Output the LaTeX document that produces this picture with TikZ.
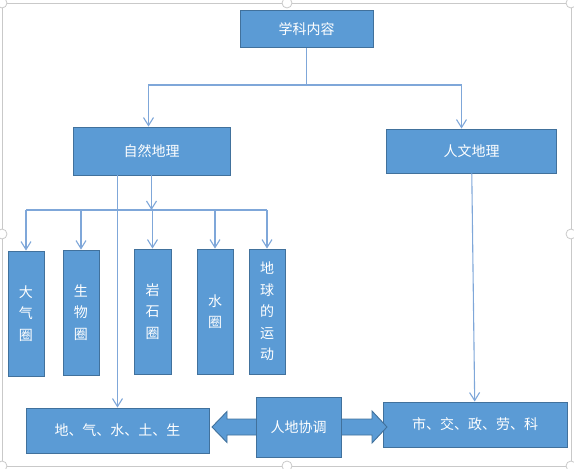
\documentclass[tikz,border=0pt]{standalone}
\usepackage{fontspec}
\newfontfamily\cjk{Noto Sans CJK SC}
\usepackage{xcolor}
\usepackage{tikz}
\usetikzlibrary{arrows.meta}
\usetikzlibrary{calc}

\definecolor{boxfill}{HTML}{5B9BD5}
\definecolor{boxline}{HTML}{41719C}
\definecolor{linkline}{HTML}{7FA7D9}
\definecolor{framegray}{HTML}{C9C9C9}

\tikzset{
  topic/.style={draw=boxline, fill=boxfill, line width=0.9pt, text=white, inner sep=0pt,
    font=\cjk\fontsize{14}{16}\selectfont},
  sphere/.style={topic, minimum width=36, minimum height=125, align=center,
    font=\cjk\fontsize{14}{21.5}\selectfont},
  arrowbody/.style={draw=boxline, fill=boxfill, line width=0.9pt},
  link/.style={draw=linkline, line width=1.1pt},
  linkarr/.style={link, -{Straight Barb[length=8pt,width=10pt]}},
}

\begin{document}
\begin{tikzpicture}[x=1pt,y=-1pt]
			\useasboundingbox (0,0) rectangle (574,469);
			\draw[framegray, line width=0.8pt] (2,3) rectangle (571,466);
			\foreach \p in {(2,3),(287,3),(571,3),(2,234),(571,234),(2,466),(287,466),(571,466)}
				\filldraw[draw=framegray, fill=white, line width=0.8pt] \p circle (5pt);

			\node[topic, minimum width=133, minimum height=37] (content) at (306.5,29) {学科内容};
			\node[topic, minimum width=157, minimum height=48] (physical) at (151.5,151) {自然地理};
			\node[topic, minimum width=170, minimum height=44] (human) at (471.5,151) {人文地理};

			\node[sphere] (atmo) at (26,313.5) {大\\气\\圈};
			\node[sphere] (bio) at (81,312.5) {生\\物\\圈};
			\node[sphere, minimum width=37] (litho) at (152.5,311.5) {岩\\石\\圈};
			\node[sphere] (hydro) at (215,311.5) {水\\圈};
			\node[sphere] (motion) at (267,311.5) {地\\球\\的\\运\\动};

			\node[topic, minimum width=183, minimum height=45] (elements) at (117.5,430.5) {地、气、水、土、生};
			\node[topic, minimum width=184, minimum height=45] (society) at (475,424.5) {市、交、政、劳、科};

			\coordinate (harmonyc) at (298.5,427);
			\filldraw[arrowbody] ($(harmonyc)+(-42.5,-8)$) -- ++(-29,0) -- ++(0,-7.5) -- ++(-15,15.5)
				-- ++(15,15.5) -- ++(0,-7.5) -- ($(harmonyc)+(-42.5,8)$);
			\filldraw[arrowbody] ($(harmonyc)+(42.5,-8)$) -- ++(31,0) -- ++(0,-8) -- ++(15,16)
				-- ++(-15,16) -- ++(0,-8) -- ($(harmonyc)+(42.5,8)$);
			\node[topic, minimum width=85, minimum height=60] (harmony) at (harmonyc) {人地协调};

			\coordinate (split) at (306.5,85);
			\draw[link] (content) -- (split);
			\draw[linkarr] (split) -| ([xshift=-3]physical.north);
			\draw[linkarr] (split) -| ([xshift=-10]human.north);

			\coordinate (hub) at (151.5,210);
			\draw[linkarr] (physical) -- (hub);
			\draw[link] (hub -| atmo.north) -- (hub -| motion.north);
			\foreach \s in {atmo,bio,litho,hydro,motion}
				\draw[linkarr] (hub -| \s.north) -- (\s.north);

			\draw[linkarr] (physical.south -| elements.north) -- (elements.north);
			\draw[linkarr] (human) -- (society);
		\end{tikzpicture}
\end{document}
